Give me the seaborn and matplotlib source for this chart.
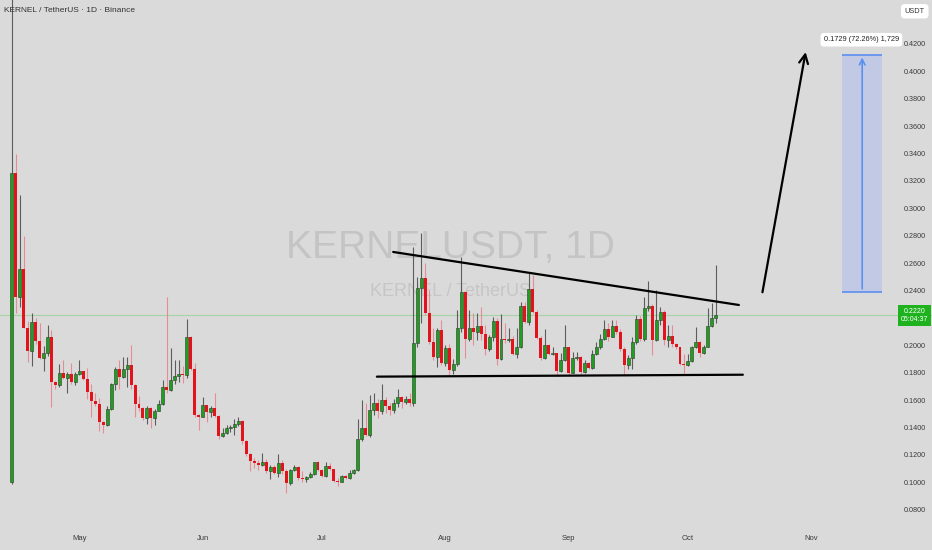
import numpy as np
import pandas as pd
import matplotlib.pyplot as plt
import seaborn as sns

# KERNEL/USDT daily candles (first candle 2025-04-14)
start_date = pd.Timestamp("2025-04-14")

opens = [
    0.1000, 0.3260, 0.2355, 0.2556, 0.2129, 0.1960, 0.2173, 0.2034, 0.1906, 0.1942,
    0.2059, 0.1735, 0.1710, 0.1796, 0.1760, 0.1789, 0.1731, 0.1793, 0.1811, 0.1753,
    0.1658, 0.1594, 0.1570, 0.1443, 0.1420, 0.1534, 0.1718, 0.1830, 0.1772, 0.1825,
    0.1857, 0.1710, 0.1570, 0.1540, 0.1468, 0.1540, 0.1468, 0.1524, 0.1572, 0.1694,
    0.1675, 0.1747, 0.1777, 0.1791, 0.1784, 0.2059, 0.1826, 0.1492, 0.1480, 0.1565,
    0.1516, 0.1540, 0.1485, 0.1339, 0.1358, 0.1395, 0.1407, 0.1424, 0.1448, 0.1305,
    0.1207, 0.1158, 0.1144, 0.1127, 0.1150, 0.1083, 0.1116, 0.1067, 0.1139, 0.1085,
    0.0993, 0.1090, 0.1116, 0.1030, 0.1027, 0.1042, 0.1059, 0.1147, 0.1090, 0.1047,
    0.1120, 0.1096, 0.1012, 0.1005, 0.1047, 0.1030, 0.1067, 0.1090, 0.1315, 0.1395,
    0.1346, 0.1530, 0.1580, 0.1520, 0.1600, 0.1560, 0.1530, 0.1580, 0.1620, 0.1590,
    0.1610, 0.1580, 0.2015, 0.2417, 0.2495, 0.2234, 0.2027, 0.1917, 0.2112, 0.1869,
    0.1979, 0.1820, 0.1864, 0.2125, 0.2392, 0.2045, 0.2125, 0.2100, 0.2142, 0.2083,
    0.1971, 0.2059, 0.2178, 0.1899, 0.2045, 0.2040, 0.2049, 0.1937, 0.1986, 0.2288,
    0.2173, 0.2412, 0.2246, 0.2052, 0.1906, 0.2003, 0.1937, 0.1942, 0.1815, 0.1893,
    0.1986, 0.1800, 0.1906, 0.1917, 0.1808, 0.1874, 0.1833, 0.1937, 0.1985, 0.2049,
    0.2117, 0.2064, 0.2144, 0.2100, 0.1971, 0.1857, 0.1906, 0.2027, 0.2190, 0.2045,
    0.2271, 0.2288, 0.2040, 0.2185, 0.2246, 0.2040, 0.2069, 0.2012, 0.1986, 0.1864,
    0.1857, 0.1889, 0.1985, 0.2022, 0.1947, 0.1990, 0.2142, 0.2198,
]
highs = [
    0.5500, 0.3400, 0.3100, 0.2800, 0.2180, 0.2240, 0.2200, 0.2166, 0.1996, 0.2150,
    0.2112, 0.1738, 0.1862, 0.1893, 0.1805, 0.1874, 0.1805, 0.1893, 0.1815, 0.1833,
    0.1718, 0.1650, 0.1614, 0.1445, 0.1558, 0.1722, 0.1842, 0.1893, 0.1917, 0.1917,
    0.2003, 0.1720, 0.1630, 0.1550, 0.1555, 0.1550, 0.1535, 0.1600, 0.1747, 0.2355,
    0.1979, 0.1893, 0.1893, 0.1850, 0.2190, 0.2065, 0.1874, 0.1500, 0.1626, 0.1568,
    0.1560, 0.1655, 0.1490, 0.1400, 0.1420, 0.1420, 0.1460, 0.1480, 0.1455, 0.1310,
    0.1215, 0.1180, 0.1160, 0.1217, 0.1170, 0.1125, 0.1130, 0.1207, 0.1160, 0.1095,
    0.1100, 0.1130, 0.1120, 0.1080, 0.1050, 0.1075, 0.1150, 0.1155, 0.1095, 0.1147,
    0.1140, 0.1100, 0.1035, 0.1055, 0.1055, 0.1090, 0.1095, 0.1460, 0.1600, 0.1577,
    0.1640, 0.1650, 0.1610, 0.1720, 0.1620, 0.1580, 0.1610, 0.1680, 0.1630, 0.1630,
    0.1650, 0.2720, 0.2500, 0.2820, 0.2600, 0.2404, 0.2125, 0.2125, 0.2185, 0.2000,
    0.2010, 0.1900, 0.2258, 0.2647, 0.2400, 0.2258, 0.2234, 0.2240, 0.2283, 0.2150,
    0.2075, 0.2205, 0.2200, 0.2229, 0.2161, 0.2130, 0.2065, 0.2129, 0.2319, 0.2319,
    0.2526, 0.2515, 0.2260, 0.2065, 0.2117, 0.2010, 0.1985, 0.1947, 0.1947, 0.2149,
    0.1990, 0.1950, 0.1955, 0.1922, 0.1895, 0.1880, 0.1970, 0.2022, 0.2080, 0.2185,
    0.2160, 0.2185, 0.2185, 0.2120, 0.1985, 0.1930, 0.2060, 0.2222, 0.2215, 0.2350,
    0.2472, 0.2300, 0.2404, 0.2279, 0.2260, 0.2149, 0.2149, 0.2020, 0.1990, 0.1940,
    0.1940, 0.1995, 0.2132, 0.2035, 0.2000, 0.2271, 0.2312, 0.2587,
]
lows = [
    0.0990, 0.2240, 0.2280, 0.2125, 0.1880, 0.1850, 0.2010, 0.1900, 0.1815, 0.1920,
    0.1548, 0.1680, 0.1700, 0.1752, 0.1655, 0.1720, 0.1710, 0.1785, 0.1745, 0.1607,
    0.1475, 0.1555, 0.1377, 0.1358, 0.1415, 0.1528, 0.1675, 0.1680, 0.1760, 0.1700,
    0.1680, 0.1475, 0.1520, 0.1458, 0.1426, 0.1395, 0.1420, 0.1520, 0.1565, 0.1650,
    0.1665, 0.1715, 0.1735, 0.1728, 0.1760, 0.1820, 0.1480, 0.1383, 0.1475, 0.1443,
    0.1480, 0.1480, 0.1315, 0.1335, 0.1352, 0.1370, 0.1345, 0.1415, 0.1280, 0.1195,
    0.1085, 0.1105, 0.1090, 0.1120, 0.1071, 0.1023, 0.1060, 0.1042, 0.1060, 0.0925,
    0.0981, 0.1085, 0.1020, 0.1000, 0.1000, 0.1030, 0.1055, 0.1085, 0.1040, 0.1042,
    0.1092, 0.1005, 0.0974, 0.1000, 0.1025, 0.1025, 0.1060, 0.1085, 0.1300, 0.1340,
    0.1330, 0.1490, 0.1470, 0.1500, 0.1510, 0.1490, 0.1510, 0.1550, 0.1540, 0.1570,
    0.1560, 0.1560, 0.1990, 0.2160, 0.2220, 0.2010, 0.1893, 0.1845, 0.1860, 0.1850,
    0.1784, 0.1790, 0.1850, 0.2100, 0.1906, 0.2035, 0.2000, 0.2040, 0.2040, 0.1930,
    0.1960, 0.2030, 0.1857, 0.1890, 0.2020, 0.2025, 0.1930, 0.1906, 0.1980, 0.2161,
    0.2150, 0.2240, 0.2045, 0.1895, 0.1898, 0.1930, 0.1932, 0.1777, 0.1808, 0.1888,
    0.1777, 0.1795, 0.1895, 0.1790, 0.1795, 0.1826, 0.1826, 0.1930, 0.1975, 0.2040,
    0.2035, 0.2058, 0.2080, 0.1960, 0.1791, 0.1826, 0.1830, 0.2010, 0.2035, 0.2035,
    0.2250, 0.1930, 0.2030, 0.2150, 0.2000, 0.1985, 0.1990, 0.1975, 0.1855, 0.1784,
    0.1850, 0.1880, 0.1980, 0.1917, 0.1935, 0.1985, 0.2135, 0.2161,
]
closes = [
    0.3260, 0.2355, 0.2556, 0.2129, 0.1960, 0.2173, 0.2034, 0.1906, 0.1942, 0.2059,
    0.1735, 0.1710, 0.1796, 0.1760, 0.1789, 0.1731, 0.1793, 0.1811, 0.1753, 0.1658,
    0.1594, 0.1570, 0.1443, 0.1420, 0.1534, 0.1718, 0.1830, 0.1772, 0.1825, 0.1857,
    0.1710, 0.1570, 0.1540, 0.1468, 0.1540, 0.1468, 0.1524, 0.1572, 0.1694, 0.1675,
    0.1747, 0.1777, 0.1791, 0.1784, 0.2059, 0.1826, 0.1492, 0.1480, 0.1565, 0.1516,
    0.1540, 0.1485, 0.1339, 0.1358, 0.1395, 0.1407, 0.1424, 0.1448, 0.1305, 0.1207,
    0.1158, 0.1144, 0.1127, 0.1150, 0.1083, 0.1116, 0.1067, 0.1139, 0.1085, 0.0993,
    0.1090, 0.1116, 0.1030, 0.1027, 0.1042, 0.1059, 0.1147, 0.1090, 0.1047, 0.1120,
    0.1096, 0.1012, 0.1005, 0.1047, 0.1030, 0.1067, 0.1090, 0.1315, 0.1395, 0.1346,
    0.1530, 0.1580, 0.1520, 0.1600, 0.1560, 0.1530, 0.1580, 0.1620, 0.1590, 0.1610,
    0.1580, 0.2015, 0.2417, 0.2495, 0.2234, 0.2027, 0.1917, 0.2112, 0.1869, 0.1979,
    0.1820, 0.1864, 0.2125, 0.2392, 0.2045, 0.2125, 0.2100, 0.2142, 0.2083, 0.1971,
    0.2059, 0.2178, 0.1899, 0.2045, 0.2040, 0.2049, 0.1937, 0.1986, 0.2288, 0.2173,
    0.2412, 0.2246, 0.2052, 0.1906, 0.2003, 0.1937, 0.1942, 0.1815, 0.1893, 0.1986,
    0.1800, 0.1906, 0.1917, 0.1808, 0.1874, 0.1833, 0.1937, 0.1985, 0.2049, 0.2117,
    0.2064, 0.2144, 0.2100, 0.1971, 0.1857, 0.1906, 0.2027, 0.2190, 0.2045, 0.2271,
    0.2288, 0.2040, 0.2185, 0.2246, 0.2040, 0.2069, 0.2012, 0.1986, 0.1864, 0.1857,
    0.1889, 0.1985, 0.2022, 0.1947, 0.1990, 0.2142, 0.2198, 0.2220,
]

# 0.2200 is hidden behind the last-price tag on the original
price_ticks = [0.08, 0.10, 0.12, 0.14, 0.16, 0.18, 0.20, 0.24, 0.26,
               0.28, 0.30, 0.32, 0.34, 0.36, 0.38, 0.40, 0.42]
month_starts = ["2025-05-01", "2025-06-01", "2025-07-01", "2025-08-01",
                "2025-09-01", "2025-10-01", "2025-11-01"]
month_labels = ["May", "Jun", "Jul", "Aug", "Sep", "Oct", "Nov"]

# drawings: (day offset from start, price)
resistance_days, resistance_prices = [95.9, 182.8], [0.2682, 0.2295]
support_days, support_prices = [91.8, 183.8], [0.1772, 0.1786]
arrow_start, arrow_end = (188.6, 0.2368), (199.7, 0.4161)
target_days = (208.8, 218.8)
target_base, target_top = 0.2393, 0.4122
target_label = "0.1729 (72.26%) 1,729"
last_price = 0.2220
countdown = "05:04:37"

bg = "#dadada"
sns.set_style("white", rc={"axes.facecolor": bg, "figure.facecolor": bg})
plt.rcParams["font.family"] = ["Liberation Sans", "DejaVu Sans"]

df = pd.DataFrame({"open": opens, "high": highs, "low": lows, "close": closes})
df["day"] = np.arange(len(df))
up = df[df["close"] >= df["open"]]
down = df[df["close"] < df["open"]]

fig = plt.figure(figsize=(9.32, 5.5), dpi=100)
ax = fig.add_axes([0, 0, 1, 1])
ax.set_facecolor(bg)

# watermark
ax.text(0.483, 0.549, "KERNELUSDT, 1D", transform=ax.transAxes, ha="center", va="center",
        fontsize=28, color="#c4c4c4", zorder=0)
ax.text(0.483, 0.470, "KERNEL / TetherUS", transform=ax.transAxes, ha="center", va="center",
        fontsize=13, color="#c6c6c6", zorder=0)

# candles
ax.vlines(up["day"], up["low"], up["high"], color="#5c5c5c", lw=0.8, zorder=2)
ax.vlines(down["day"], down["low"], down["high"], color="#e58d93", lw=0.8, zorder=2)
ax.bar(up["day"], np.maximum(up["close"] - up["open"], 0.0008), bottom=up["open"], width=0.75,
       color="#1f9e1f", edgecolor="#2e3a2e", linewidth=0.4, zorder=3)
ax.bar(down["day"], np.maximum(down["open"] - down["close"], 0.0008), bottom=down["close"], width=0.75,
       color="#e3131b", linewidth=0, zorder=3)

# last price line
ax.axhline(last_price, color="#a6d2a6", lw=0.8, zorder=1)

# pattern lines
ax.plot(resistance_days, resistance_prices, color="black", lw=1.6, zorder=4)
ax.plot(support_days, support_prices, color="black", lw=1.6, zorder=4)
ax.annotate("", xy=arrow_end, xytext=arrow_start,
            arrowprops=dict(arrowstyle="->", color="black", lw=1.6, mutation_scale=16), zorder=4)

# projection box
ax.fill_between(target_days, target_base, target_top, color="#c2c9e5", lw=0, zorder=1)
ax.hlines([target_base, target_top], target_days[0], target_days[1], color="#5b8ff0", lw=1.2, zorder=2)
mid = (target_days[0] + target_days[1]) / 2
ax.annotate("", xy=(mid, target_top), xytext=(mid, target_base),
            arrowprops=dict(arrowstyle="->", color="#5b8ff0", lw=1.2, mutation_scale=10), zorder=2)
ax.text(mid - 0.2, 0.4231, target_label, ha="center", va="center",
        fontsize=5.3, color="#222222",
        bbox=dict(boxstyle="round,pad=0.45", fc="white", ec="none"), zorder=5)

# axes
px_per_day = 3.978
xmin = -11.7 / px_per_day
ax.set_xlim(xmin, xmin + 932 / px_per_day)
ax.set_ylim(0.42 - 506 / 1370, 0.42 + 44 / 1370)
month_days = [(pd.Timestamp(m) - start_date).days for m in month_starts]
ax.set_xticks(month_days)
ax.set_xticklabels(month_labels)
ax.yaxis.tick_right()
ax.set_yticks(price_ticks)
ax.set_yticklabels([f"{p:.4f}" for p in price_ticks])
ax.tick_params(axis="y", length=0, pad=-20, labelsize=5.2, labelcolor="#3a3a3a")
ax.tick_params(axis="x", length=0, pad=-11, labelsize=5.5, labelcolor="#3a3a3a")
for s in ax.spines.values():
    s.set_visible(False)
ax.grid(False)

# price scale badges
ax.text(0.9815, 0.9795, "USDT", transform=ax.transAxes, ha="center", va="center", fontsize=5.3,
        color="#333333", bbox=dict(boxstyle="round,pad=0.5", fc="white", ec="none"), zorder=6)
ax.text(0.9815, last_price, f"{last_price:.4f}\n{countdown}", transform=ax.get_yaxis_transform(),
        ha="center", va="center", fontsize=5.0, color="white", linespacing=1.3,
        bbox=dict(boxstyle="square,pad=0.4", fc="#1fb21f", ec="none"), zorder=6)

fig.text(4 / 932, 1 - 10.5 / 550, "KERNEL / TetherUS · 1D · Binance", ha="left", va="center",
         fontsize=6, color="#333333")

fig.savefig("out.png", dpi=100, facecolor=bg)
